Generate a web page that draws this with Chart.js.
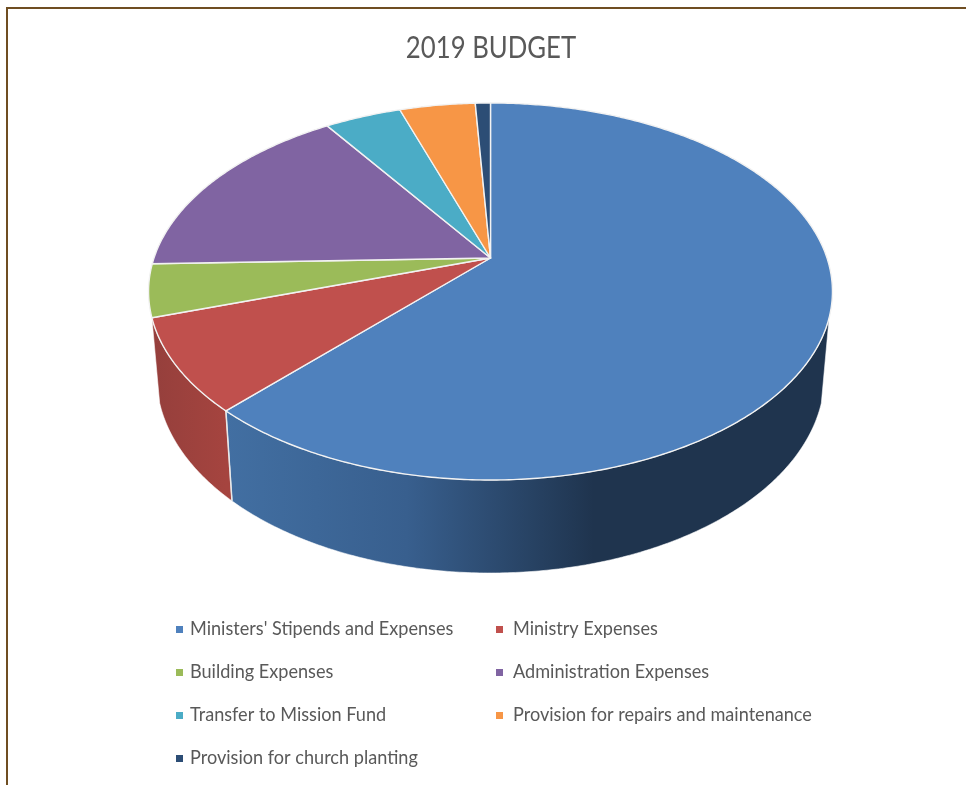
<!DOCTYPE html>
<html>
<head>
<meta charset="utf-8">
<title>2019 Budget</title>
<script src="https://cdn.jsdelivr.net/npm/chart.js@4"></script>
<style>
    html, body { margin: 0; padding: 0; background: #fff; overflow: hidden; }
    #moldura { position: absolute; left: 6px; top: 7px; right: -10px; bottom: -10px; border-top: 2px solid #6f4e22; border-left: 2px solid #6f4e22; }
    #quebraChart { position: absolute; left: 0; top: 0; filter: blur(0.45px); }
</style>
</head>
<body>
<canvas id="quebraChart" width="966" height="785"></canvas>
<div id="moldura"></div>
<script>
var titulo = '2019 BUDGET';
var categorias = [
    "Ministers' Stipends and Expenses",
    'Ministry Expenses',
    'Building Expenses',
    'Administration Expenses',
    'Transfer to Mission Fund',
    'Provision for repairs and maintenance',
    'Provision for church planting'
];
var valores = [62, 8, 4.5, 16.1, 4.3, 4.25, 0.85];

var cores = ['#4f81bd', '#c0504d', '#9bbb59', '#8064a2', '#4bacc6', '#f79646', '#2c4d75'];
// gradiente da parede lateral (esquerda -> direita)
var coresParede = [
    [[0, '#426fa2'], [0.3, '#385f8e'], [0.61, '#1f344e'], [1, '#1f344e']],
    [[0, '#953f3c'], [1, '#a5443f']]
];

// camera: circulo unitario -> tela (apice em 490,258)
var cx = 490.5, apiceY = 258, escalaX = 336.5, escalaY = 136.7, persp = -0.1777;
var anguloVisivelMin = 18 * Math.PI / 180, anguloVisivelMax = 162 * Math.PI / 180;
var apertoTexto = 0.905, apertoTitulo = 0.83; // fonte um pouco mais estreita

function topo(ang) {
    var u = Math.cos(ang), v = Math.sin(ang), w = 1 + persp * v;
    return { x: cx + escalaX * u / w, y: (apiceY + escalaY * v) / w };
}
function base(ang) {
    var p = topo(ang);
    return { x: cx + 0.977 * (p.x - cx), y: p.y + 82 + 11 * Math.sin(ang) };
}
function caminhoArco(ctx, fn, a0, a1) {
    var passos = Math.max(2, Math.ceil(Math.abs(a1 - a0) / 0.01));
    for (var i = 0; i <= passos; i++) {
        var p = fn(a0 + (a1 - a0) * i / passos);
        ctx.lineTo(p.x, p.y);
    }
}

const pizza3d = {
    id: 'pizza3d',
    beforeDatasetsDraw(chart) {
        var ctx = chart.ctx;
        var arcos = chart.getDatasetMeta(0).data;
        ctx.save();
        ctx.lineJoin = 'round';

        // parede lateral
        arcos.forEach(function (arco, i) {
            var a0 = Math.max(arco.startAngle, anguloVisivelMin);
            var a1 = Math.min(arco.endAngle, anguloVisivelMax);
            if (a1 <= a0) return;
            var xs = [topo(a0).x, topo(a1).x];
            var grad = ctx.createLinearGradient(Math.min(xs[0], xs[1]), 0, Math.max(xs[0], xs[1]), 0);
            coresParede[i].forEach(function (s) { grad.addColorStop(s[0], s[1]); });
            ctx.beginPath();
            caminhoArco(ctx, topo, a0, a1);
            caminhoArco(ctx, base, a1, a0);
            ctx.closePath();
            ctx.fillStyle = grad;
            ctx.fill();
            ctx.strokeStyle = 'rgba(255,255,255,0.55)';
            ctx.lineWidth = 1;
            ctx.stroke();
        });

        // linha branca entre as paredes
        var corte = arcos[0].endAngle;
        ctx.beginPath();
        ctx.moveTo(topo(corte).x, topo(corte).y);
        ctx.lineTo(base(corte).x, base(corte).y);
        ctx.strokeStyle = '#e8e8e8';
        ctx.lineWidth = 1.5;
        ctx.stroke();

        // fatias
        arcos.forEach(function (arco, i) {
            ctx.beginPath();
            ctx.moveTo(cx, apiceY);
            caminhoArco(ctx, topo, arco.startAngle, arco.endAngle);
            ctx.closePath();
            ctx.fillStyle = cores[i];
            ctx.fill();
            ctx.strokeStyle = '#f2f2f2';
            ctx.lineWidth = 1.4;
            ctx.stroke();
        });
        ctx.restore();
        return false;
    },
    afterDraw(chart) {
        var ctx = chart.ctx;
        ctx.save();
        ctx.textBaseline = 'middle';

        // titulo
        ctx.textAlign = 'center';
        ctx.font = '31px Lato';
        ctx.fillStyle = '#595959';
        ctx.save();
        ctx.translate(491, 48);
        ctx.scale(apertoTitulo, 1);
        ctx.fillText(titulo, 0, 0);
        ctx.restore();

        // legenda em duas colunas
        var colunas = [176, 496], textoDx = [14, 17];
        var linhas = [629, 672, 715, 758];
        ctx.textAlign = 'left';
        ctx.font = '20px Lato';
        categorias.forEach(function (nome, i) {
            var col = i % 2, lin = Math.floor(i / 2);
            ctx.fillStyle = cores[i];
            ctx.fillRect(colunas[col], linhas[lin] - 3, 7, 7);
            ctx.fillStyle = '#595959';
            ctx.save();
            ctx.translate(colunas[col] + textoDx[col], linhas[lin]);
            ctx.scale(apertoTexto, 1);
            ctx.fillText(nome, 0, 0);
            ctx.restore();
        });
        ctx.restore();
    }
};

var ctx = document.getElementById('quebraChart').getContext('2d');
var quebraChart = new Chart(ctx, {
    type: 'pie',
    data: {
        labels: categorias,
        datasets: [{ data: valores, backgroundColor: cores }]
    },
    plugins: [pizza3d],
    options: {
        responsive: false,
        animation: false,
        devicePixelRatio: 1,
        plugins: {
            legend: { display: false },
            tooltip: { enabled: false },
            title: { display: false }
        }
    }
});
</script>
</body>
</html>
